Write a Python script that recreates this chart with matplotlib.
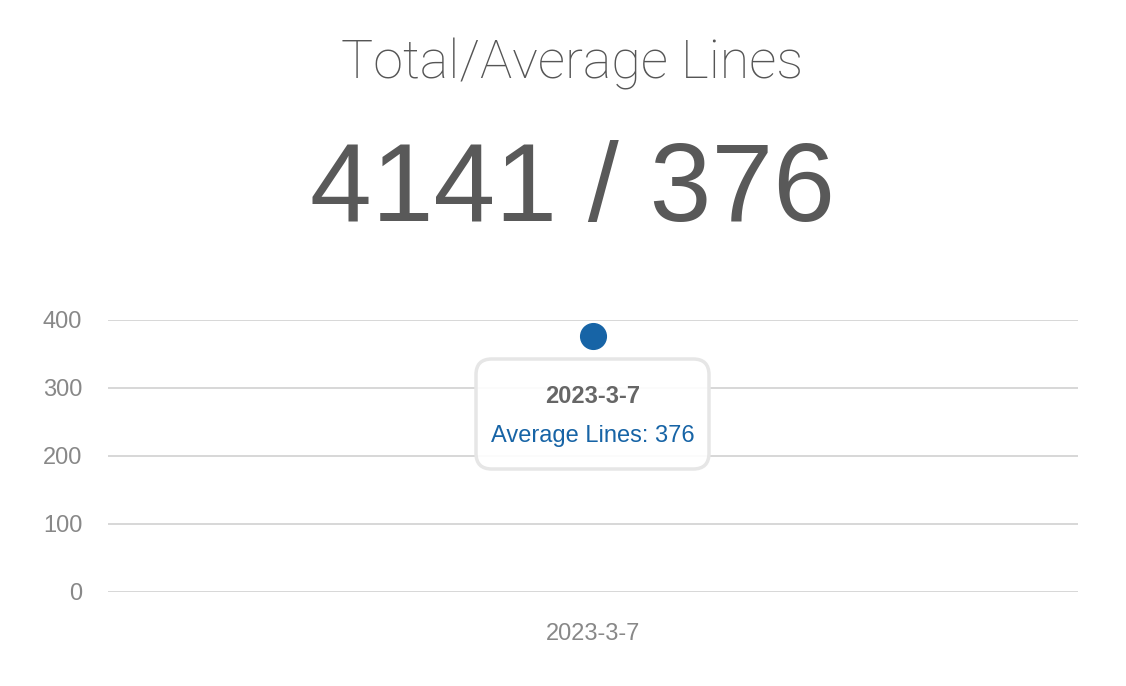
import matplotlib
matplotlib.use("Agg")
import matplotlib.pyplot as plt
from matplotlib.patches import FancyBboxPatch

# ---- data ----
title_text = "Total/Average Lines"
total_lines = 4141
average_lines = 376
dates = ["2023-3-7"]
avg_values = [376]
y_ticks = [0, 100, 200, 300, 400]
series_name = "Average Lines"

W, H = 1126, 686
fig = plt.figure(figsize=(W / 100, H / 100), dpi=100)
fig.patch.set_facecolor("white")

def fx(px):
    return px / W

def fy(py):
    return 1 - py / H

cx = fx(572)
# titles
fig.text(cx, fy(78), title_text, ha="center", va="baseline",
         fontsize=38.8, color="#555555", family="Roboto", fontweight="light")
fig.text(cx, fy(221), f"{total_lines} / {average_lines}", ha="center", va="baseline",
         fontsize=80, color="#595959", family="Liberation Sans")

# axes
ax = fig.add_axes([fx(108), fy(592), fx(1078) - fx(108), fy(320) - fy(592)])
ax.set_facecolor("white")
x = list(range(len(dates)))
ax.plot(x, avg_values, "o", color="#1764a6", markersize=18.5, clip_on=False, zorder=3)
ax.set_xlim(-0.5, len(dates) - 0.5)
ax.set_ylim(y_ticks[0], y_ticks[-1])
ax.set_yticks(y_ticks)
ax.set_xticks(x)
ax.set_xticklabels(dates)
for s in ax.spines.values():
    s.set_visible(False)
ax.grid(axis="y", color="#d4d4d4", linewidth=1.3)
ax.set_axisbelow(True)
ax.tick_params(axis="both", length=0, labelsize=17, labelcolor="#888888")
ax.tick_params(axis="y", pad=18.5)
ax.tick_params(axis="x", pad=22)
for lab in ax.get_xticklabels() + ax.get_yticklabels():
    lab.set_family("Liberation Sans")

# tooltip
bx0, by0, bx1, by1 = 476, 359, 709, 469
box = FancyBboxPatch((fx(bx0), fy(by1)), fx(bx1) - fx(bx0), fy(by0) - fy(by1),
                     boxstyle="round,pad=0,rounding_size=0.014",
                     transform=fig.transFigure, facecolor=(1, 1, 1, 0.9),
                     edgecolor="#e6e6e6", linewidth=2.5, zorder=5,
                     mutation_aspect=W / H)
fig.add_artist(box)
fig.text(0.5 * (fx(bx0) + fx(bx1)), fy(396), dates[0], ha="center", va="center",
         fontsize=17, fontweight="bold", color="#666666", family="Liberation Sans", zorder=6)
fig.text(0.5 * (fx(bx0) + fx(bx1)), fy(436), f"{series_name}: {avg_values[0]}",
         ha="center", va="center", fontsize=17, color="#1764a6",
         family="Liberation Sans", zorder=6)

fig.savefig("out.png", dpi=100, facecolor="white")
